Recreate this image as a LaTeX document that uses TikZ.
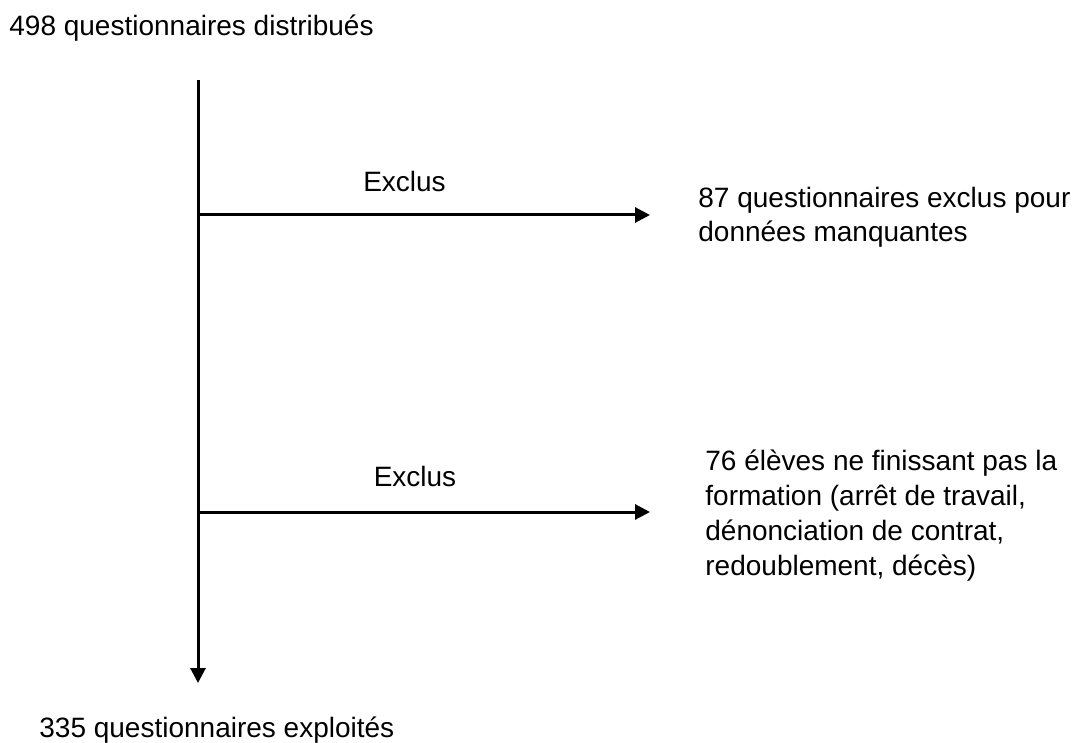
\documentclass[tikz,border=0pt]{standalone}
\usepackage{fontspec}
\setmainfont{Liberation Sans}
\usetikzlibrary{arrows.meta}
\tikzset{
  lbl/.style={anchor=base west,inner sep=0pt,align=left,font=\fontsize{14}{17.4}\selectfont},
  flux/.style={line width=1.5pt,-{Triangle[length=7.5pt,width=7.5pt]}}
}
\begin{document}
\begin{tikzpicture}[x=0.5pt,y=-0.5pt]
            \useasboundingbox (0,0) rectangle (1076,743);
            \node[lbl] (distrib) at (9,36) {498 questionnaires distribués};
            \node[lbl] (exploit) at (39,737) {335 questionnaires exploités};
            \coordinate (haut) at (198,80);
            \coordinate (bas) at (198,683);
            \coordinate (dep1) at (198,215);
            \coordinate (fin1) at (650,215);
            \coordinate (dep2) at (198,512);
            \coordinate (fin2) at (650,512);
            \node[lbl,anchor=base] (excl1) at (404.5,192) {Exclus};
            \node[lbl,anchor=base] (excl2) at (415,486) {Exclus};
            % base = last line of the text
            \node[lbl] (manq) at (698,242) {87 questionnaires exclus pour\\données manquantes};
            \node[lbl] (eleves) at (705,575) {76 élèves ne finissant pas la\\formation (arrêt de travail,\\dénonciation de contrat,\\redoublement, décès)};
            \draw[flux] (haut) -- (bas);
            \draw[flux] (dep1) -- (fin1);
            \draw[flux] (dep2) -- (fin2);
          \end{tikzpicture}
\end{document}
